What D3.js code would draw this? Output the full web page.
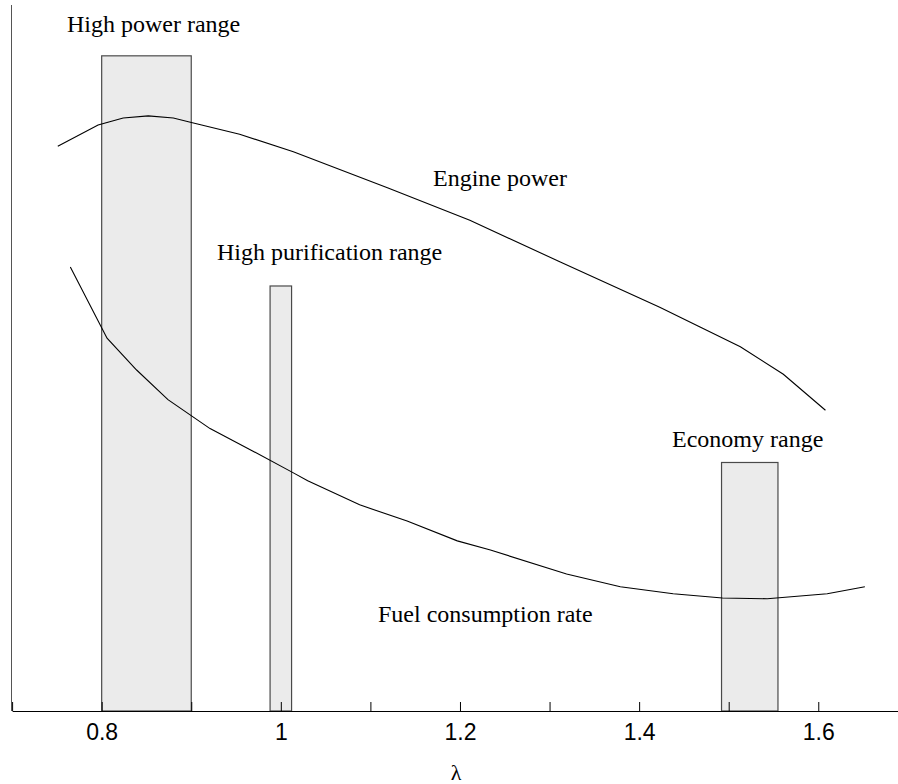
<!DOCTYPE html>
<html>
<head>
<meta charset="utf-8">
<script src="https://cdn.jsdelivr.net/npm/d3@7"></script>
<style>
  body { margin: 0; background: #fff; }
  svg { display: block; }
  .label { font-family: 'Liberation Serif', 'Times New Roman', serif; font-size: 24px; fill: #000; }
  .x.axis text { font-family: 'Liberation Sans', Arial, sans-serif; font-size: 23px; fill: #000; }
  .curve { fill: none; stroke: #000; stroke-width: 1.1; }
  .range-bar { fill: #ebebeb; stroke: #4a4a4a; stroke-width: 1.2; }
</style>
</head>
<body>
<svg width="898" height="784"></svg>
<script>

// lambda, value (arbitrary units 0..100)
const enginePowerLambda = [0.751, 0.796, 0.824, 0.852, 0.880, 0.899, 0.954, 1.014, 1.119, 1.211, 1.312, 1.423, 1.468, 1.513, 1.561, 1.608]
const enginePowerValue = [80.0, 83.0, 84.0, 84.3, 84.0, 83.4, 81.7, 79.2, 74.1, 69.5, 63.6, 57.2, 54.4, 51.6, 47.7, 42.6]

const fuelLambda = [0.765, 0.806, 0.839, 0.874, 0.921, 0.969, 1.013, 1.030, 1.088, 1.141, 1.197, 1.234, 1.319, 1.379, 1.438, 1.493, 1.543, 1.610, 1.652]
const fuelValue = [62.9, 52.8, 48.3, 44.1, 40.0, 36.8, 33.8, 32.6, 29.2, 26.9, 24.1, 22.8, 19.4, 17.6, 16.6, 16.0, 15.9, 16.6, 17.6]

const rangeNames = ['High power range', 'High purification range', 'Economy range']
const rangeStart = [0.8, 0.988, 1.492]
const rangeEnd = [0.9, 1.012, 1.555]
const rangeTop = [92.8, 60.2, 35.2]

const xTicks = [0.7, 0.8, 0.9, 1.0, 1.1, 1.2, 1.3, 1.4, 1.5, 1.6]
const xTickLabels = ['', '0.8', '', '1', '', '1.2', '', '1.4', '', '1.6']

const svg = d3.select('svg')

const x = d3.scaleLinear()
  .domain([0.7, 1.689])
  .range([12.1, 898])

const y = d3.scaleLinear()
  .domain([0, 100])
  .range([711, 5])

// range bars
const ranges = rangeNames.map((name, i) => ({ name, x0: rangeStart[i], x1: rangeEnd[i], top: rangeTop[i] }))

svg.selectAll('.range-bar')
  .data(ranges)
  .enter()
  .append('rect')
  .attr('class', 'range-bar')
  .attr('x', d => x(d.x0))
  .attr('y', d => y(d.top))
  .attr('width', d => x(d.x1) - x(d.x0))
  .attr('height', d => y(0) - y(d.top))

// curves
const line = d3.line()
  .x(d => x(d[0]))
  .y(d => y(d[1]))

svg.append('path')
  .attr('class', 'curve')
  .attr('d', line(enginePowerLambda.map((l, i) => [l, enginePowerValue[i]])))

svg.append('path')
  .attr('class', 'curve')
  .attr('d', line(fuelLambda.map((l, i) => [l, fuelValue[i]])))

// axes
const xAxis = d3.axisBottom(x)
  .tickValues(xTicks)
  .tickFormat((d, i) => xTickLabels[i])
  .tickSize(-9)
  .tickSizeOuter(0)
  .tickPadding(13)

const xAxisG = svg.append('g')
  .attr('class', 'x axis')
  .attr('transform', `translate(0, ${y(0)})`)
  .call(xAxis)
xAxisG.select('.domain').attr('stroke', '#000').attr('stroke-width', 1.2)
xAxisG.selectAll('.tick line').attr('stroke', '#000')

svg.append('line')
  .attr('x1', 11.5).attr('x2', 11.5)
  .attr('y1', y(100)).attr('y2', y(0))
  .attr('stroke', '#555')
  .attr('stroke-width', 1)

svg.append('text')
  .attr('class', 'label')
  .attr('x', 456)
  .attr('y', 780)
  .attr('text-anchor', 'middle')
  .style('font-size', '22px')
  .text('λ')

// annotations
const labelPos = [
  { text: 'High power range', x: 67, y: 32 },
  { text: 'Engine power', x: 433, y: 186 },
  { text: 'High purification range', x: 217, y: 260 },
  { text: 'Economy range', x: 672, y: 447 },
  { text: 'Fuel consumption rate', x: 378, y: 622 }
]

svg.selectAll('.annot')
  .data(labelPos)
  .enter()
  .append('text')
  .attr('class', 'label annot')
  .attr('x', d => d.x)
  .attr('y', d => d.y)
  .text(d => d.text)

</script>
</body>
</html>
